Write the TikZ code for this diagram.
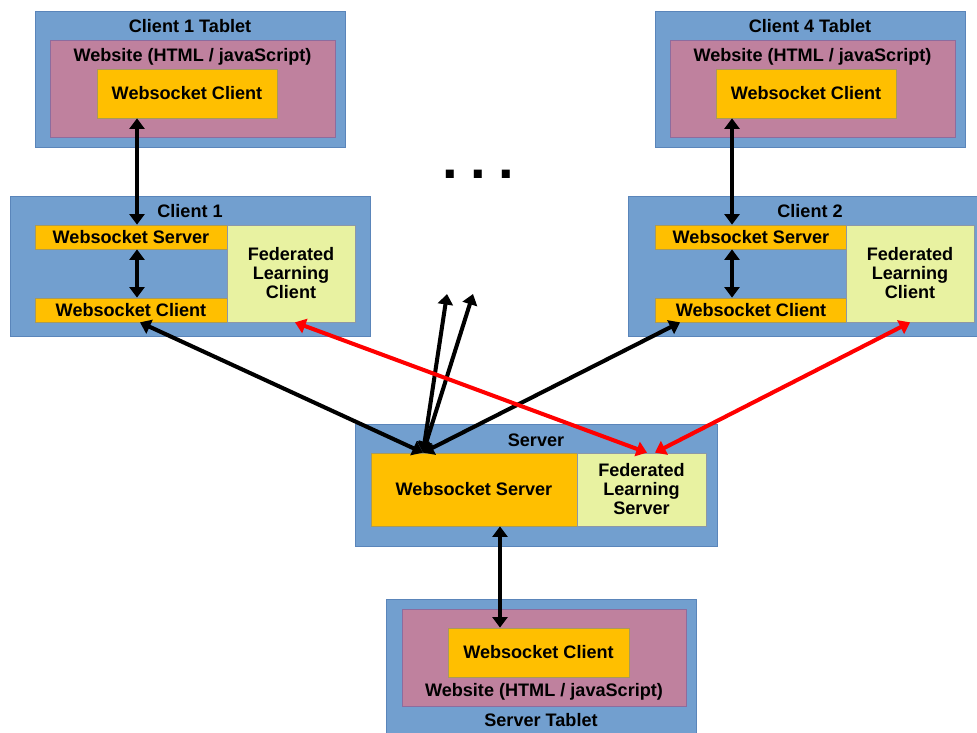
\documentclass[tikz,border=0pt]{standalone}
\usepackage{fontspec}
\setmainfont{Liberation Sans}
\usetikzlibrary{arrows.meta}
\definecolor{boxblue}{HTML}{729FCF}
\definecolor{blueline}{HTML}{5A85BA}
\definecolor{sitepink}{HTML}{BF819E}
\definecolor{pinkline}{HTML}{8D6C9E}
\definecolor{wsorange}{HTML}{FFBF00}
\definecolor{orangeline}{HTML}{A89A5A}
\definecolor{fllime}{HTML}{E8F2A1}
\definecolor{limeline}{HTML}{8C97A8}
\definecolor{flred}{HTML}{FF0000}

\begin{document}
\begin{tikzpicture}[x=0.02cm,y=-0.02cm,
    every node/.style={font=\fontsize{10.3}{10.8}\selectfont\bfseries,align=center,inner sep=0pt},
    devbox/.style={draw=blueline,fill=boxblue},
    sitebox/.style={draw=pinkline,fill=sitepink},
    wsbox/.style={draw=orangeline,fill=wsorange},
    flbox/.style={draw=limeline,fill=fllime},
    link/.style={line width=2.3pt,{Triangle[length=6pt,width=8.5pt]}-{Triangle[length=6pt,width=8.5pt]}},
    fllink/.style={link,draw=flred,fill=flred}]
  \useasboundingbox (0,0) rectangle (977,733);

  % tablets on top
  \node[devbox,minimum width=6.2cm,minimum height=2.72cm] (t1) at (190,79) {};
  \node (t1title) at (190,26.5) {Client 1 Tablet};
  \node[sitebox,minimum width=5.7cm,minimum height=1.94cm] (t1site) at (192.5,88.5) {};
  \node (t1sitetitle) at (192.5,57) {Website (HTML / javaScript)};
  \node[wsbox,minimum width=3.6cm,minimum height=0.98cm] (t1ws) at (187,93.5) {Websocket Client};

  \node[devbox,minimum width=6.2cm,minimum height=2.72cm] (t4) at (810,79) {};
  \node (t4title) at (810,26.5) {Client 4 Tablet};
  \node[sitebox,minimum width=5.7cm,minimum height=1.94cm] (t4site) at (812.5,88.5) {};
  \node (t4sitetitle) at (812.5,57) {Website (HTML / javaScript)};
  \node[wsbox,minimum width=3.6cm,minimum height=0.98cm] (t4ws) at (806,93.5) {Websocket Client};

  \node (dots) at (478,174) {\fontsize{32}{32}\selectfont .\hspace{0.22em}.\hspace{0.22em}.};

  % clients
  \node[devbox,minimum width=7.2cm,minimum height=2.8cm] (c1) at (190,266) {};
  \node (c1title) at (190,211) {Client 1};
  \node[wsbox,minimum width=3.84cm,minimum height=0.48cm] (c1wss) at (131,237) {Websocket Server};
  \node[wsbox,minimum width=3.84cm,minimum height=0.48cm] (c1wsc) at (131,310) {Websocket Client};
  \node[flbox,minimum width=2.56cm,minimum height=1.94cm] (c1fl) at (291,273.5) {Federated\\Learning\\Client};

  \node[devbox,minimum width=7.2cm,minimum height=2.8cm] (c2) at (808,266) {};
  \node (c2title) at (810,211) {Client 2};
  \node[wsbox,minimum width=3.84cm,minimum height=0.48cm] (c2wss) at (751,237) {Websocket Server};
  \node[wsbox,minimum width=3.84cm,minimum height=0.48cm] (c2wsc) at (751,310) {Websocket Client};
  \node[flbox,minimum width=2.56cm,minimum height=1.94cm] (c2fl) at (910,273.5) {Federated\\Learning\\Client};

  % server
  \node[devbox,minimum width=7.24cm,minimum height=2.44cm] (srv) at (536,485) {};
  \node (srvtitle) at (536,440) {Server};
  \node[wsbox,minimum width=4.12cm,minimum height=1.46cm] (sws) at (474,489.5) {Websocket Server};
  \node[flbox,minimum width=2.58cm,minimum height=1.46cm] (sfl) at (641.5,489.5) {Federated\\Learning\\Server};

  % server tablet
  \node[devbox,minimum width=6.2cm,minimum height=2.72cm] (st) at (541,667) {};
  \node[sitebox,minimum width=5.68cm,minimum height=1.94cm] (stsite) at (544,657.5) {};
  \node[wsbox,minimum width=3.62cm,minimum height=0.98cm] (stws) at (538.5,652.5) {Websocket Client};
  \node (stsitetitle) at (544,691.5) {Website (HTML / javaScript)};
  \node (sttitle) at (541,720) {Server Tablet};

  % connections
  \draw[link] ([xshift=-1cm]t1ws.south) -- ([xshift=-1cm]t1ws.south |- c1wss.north);
  \draw[link] ([xshift=0.12cm]c1wss.south) -- ([xshift=0.12cm]c1wsc.north);
  \draw[link] ([xshift=-1.48cm]t4ws.south) -- ([xshift=-1.48cm]t4ws.south |- c2wss.north);
  \draw[link] ([xshift=-0.38cm]c2wss.south) -- ([xshift=-0.38cm]c2wsc.north);

  \coordinate (hub) at ([xshift=-1.02cm]sws.north);
  \coordinate (other1) at (447,294);
  \coordinate (other2) at (473,294);
  \draw[link] (hub) -- ([xshift=0.18cm]c1wsc.south);
  \draw[link] (hub) -- ([xshift=-1.42cm]c2wsc.south);
  \draw[link] (hub) -- (other1);
  \draw[link] (hub) -- (other2);

  \draw[fllink] ([xshift=0.08cm]c1fl.south) -- ([xshift=0.11cm]sfl.north);
  \draw[fllink] (c2fl.south) -- ([xshift=0.27cm]sfl.north);

  \draw[link] ([xshift=0.52cm]sws.south) -- ([xshift=0.52cm]sws.south |- stws.north);
\end{tikzpicture}
\end{document}
